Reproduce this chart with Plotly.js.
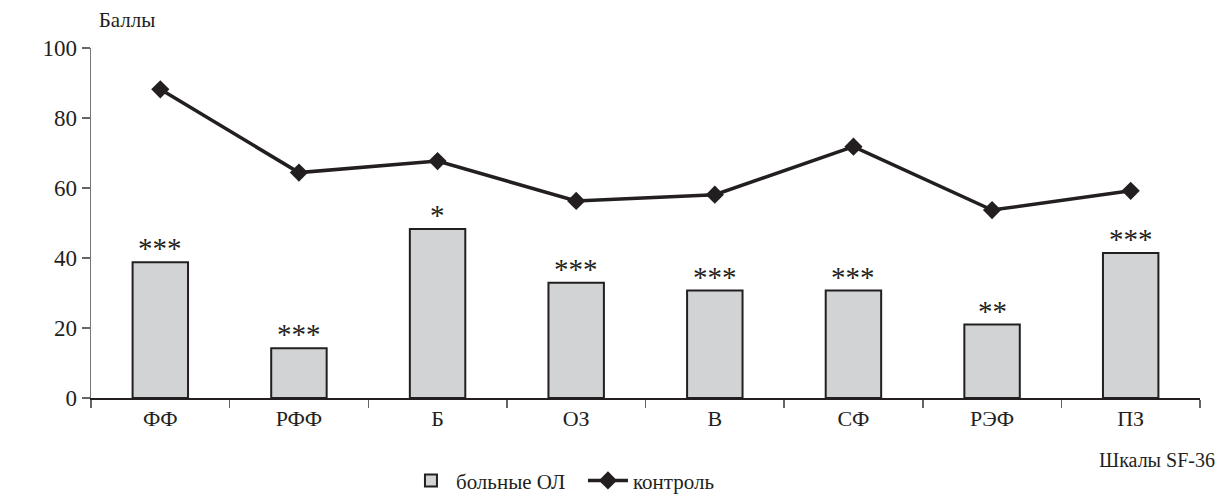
<!DOCTYPE html>
<html>
<head>
<meta charset="utf-8">
<script src="https://cdn.plot.ly/plotly-3.0.1.min.js"></script>
<style>html,body{margin:0;padding:0;background:#fff;}#chart{width:1217px;height:498px;}</style>
</head>
<body>
<div id="chart"></div>
<script>
var categories = ["ФФ", "РФФ", "Б", "ОЗ", "В", "СФ", "РЭФ", "ПЗ"];
var patients = [38.8, 14.2, 48.3, 32.9, 30.7, 30.7, 21.0, 41.4];
var control = [88.2, 64.4, 67.7, 56.3, 58.1, 71.8, 53.7, 59.2];
var significance = ["***", "***", "*", "***", "***", "***", "**", "***"];
var yTicks = [0, 20, 40, 60, 80, 100];

var ink = "#231f20";
var font = "Liberation Serif";

var traces = [
  {
    type: "bar", name: "больные ОЛ", x: categories, y: patients, width: 0.4,
    marker: {color: "#d1d3d4", line: {color: ink, width: 2}},
    hoverinfo: "x+y"
  },
  {
    type: "scatter", mode: "lines+markers", name: "контроль", x: categories, y: control,
    line: {color: ink, width: 3.5},
    marker: {symbol: "diamond", size: 14, color: ink},
    hoverinfo: "x+y"
  }
];

var annotations = categories.map(function (c, i) {
  return {
    x: c, y: patients[i], xref: "x", yref: "y", text: significance[i],
    showarrow: false, yanchor: "bottom", yshift: -4,
    font: {family: font, size: 29, color: ink}
  };
});
annotations.push({
  xref: "paper", yref: "paper", x: 1, y: -0.177, xanchor: "right", yanchor: "middle", xshift: 17,
  text: "Шкалы SF-36", showarrow: false, font: {family: font, size: 20, color: ink}
});

var layout = {
  width: 1217, height: 498,
  margin: {l: 91, r: 17, t: 48, b: 100, autoexpand: false},
  paper_bgcolor: "#fff", plot_bgcolor: "#fff",
  font: {family: font, size: 21, color: ink},
  title: {text: "Баллы", x: 0.007, xanchor: "left", xref: "paper", y: 0.96, yanchor: "middle", yref: "container",
          font: {family: font, size: 21, color: ink}},
  showlegend: true,
  legend: {orientation: "h", x: 0.284, xanchor: "left", y: -0.178, yanchor: "top",
           font: {family: font, size: 21, color: ink}, itemwidth: 40, entrywidth: 122, tracegroupgap: 0,
           bgcolor: "rgba(0,0,0,0)"},
  bargap: 0.6,
  xaxis: {
    type: "category", tickson: "boundaries", ticks: "outside", ticklen: 8, tickcolor: "#666", tickwidth: 1.5,
    showline: true, linecolor: ink, linewidth: 1.5, showgrid: false, zeroline: false,
    tickfont: {family: font, size: 22, color: ink}, fixedrange: true
  },
  yaxis: {
    range: [0, 100], tickvals: yTicks, ticktext: yTicks.map(String), ticks: "outside", ticklen: 8,
    tickcolor: "#666", tickwidth: 1.5, showline: true, linecolor: "#777", linewidth: 1.5,
    showgrid: false, zeroline: false, tickfont: {family: font, size: 23, color: ink}, fixedrange: true
  },
  annotations: annotations
};

Plotly.newPlot("chart", traces, layout, {displayModeBar: false, staticPlot: true});
</script>
</body>
</html>
